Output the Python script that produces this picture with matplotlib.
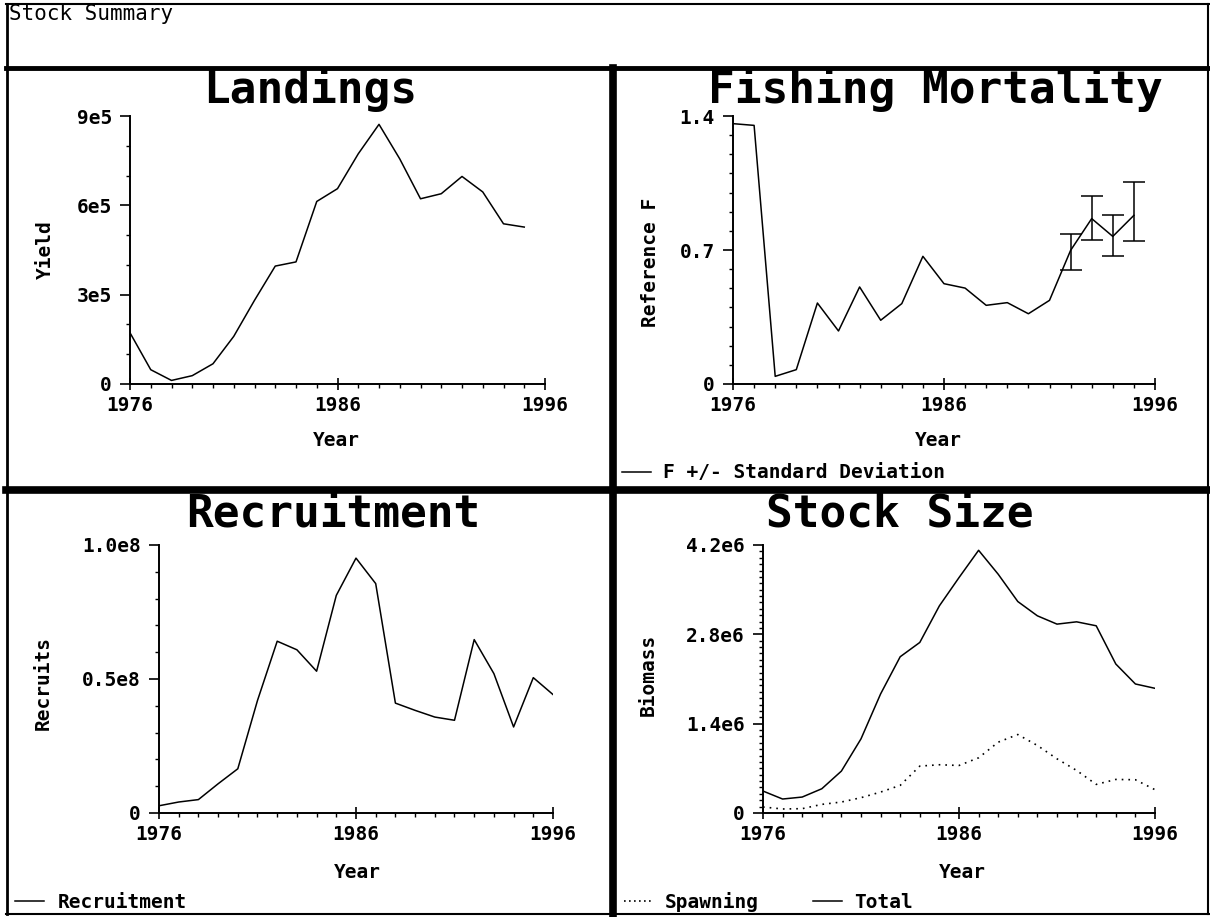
import matplotlib
matplotlib.use("Agg")
import matplotlib.pyplot as plt
from matplotlib.lines import Line2D
from matplotlib.ticker import MultipleLocator

# ---- data ----
land_years = list(range(1976, 1996))
landings = [172e3, 48e3, 12e3, 28e3, 68e3, 160e3, 281e3, 396e3, 410e3, 613e3,
            656e3, 773e3, 872e3, 756e3, 622e3, 639e3, 697e3, 645e3, 538e3, 527e3]

f_years = list(range(1976, 1996))
fmort = [1.360, 1.351, 0.040, 0.075, 0.423, 0.277, 0.507, 0.333, 0.420, 0.667,
         0.524, 0.501, 0.411, 0.425, 0.367, 0.437, 0.698, 0.864, 0.771, 0.881]
sd_years = [1992, 1993, 1994, 1995]
sd_upper = [0.785, 0.982, 0.884, 1.055]
sd_lower = [0.597, 0.754, 0.668, 0.745]

rec_years = list(range(1976, 1997))
recruits = [2.7e6, 4.1e6, 5.0e6, 10.9e6, 16.5e6, 42.0e6, 64.1e6, 60.9e6, 52.9e6, 81.2e6,
            95.1e6, 85.6e6, 41.0e6, 38.3e6, 35.8e6, 34.6e6, 64.7e6, 52.0e6, 32.1e6, 50.5e6,
            44.2e6]

stock_years = list(range(1976, 1997))
total_bio = [344e3, 219e3, 250e3, 380e3, 657e3, 1162e3, 1866e3, 2449e3, 2673e3, 3247e3,
             3689e3, 4117e3, 3742e3, 3314e3, 3090e3, 2960e3, 2996e3, 2934e3, 2335e3, 2022e3,
             1954e3]
spawn_bio = [94e3, 63e3, 68e3, 135e3, 172e3, 240e3, 328e3, 433e3, 735e3, 756e3,
             745e3, 865e3, 1110e3, 1230e3, 1058e3, 849e3, 667e3, 448e3, 526e3, 521e3,
             365e3]

W, H = 1210, 917
fig = plt.figure(figsize=(W / 100, H / 100), dpi=100)
fig.patch.set_facecolor("white")

MONO = "DejaVu Sans Mono"
TICKFONT = dict(family=MONO, weight="bold", size=14)
LABFONT = dict(family=MONO, weight="bold", size=14)
TITLEFONT = dict(family=MONO, weight="bold", size=32)


def fx(x):
    return x / W


def fy(y):
    return 1 - y / H


def make_axes(x0, x1, y0, y1):
    return fig.add_axes([fx(x0), fy(y1), fx(x1) - fx(x0), fy(y0) - fy(y1)])


def style(ax, top, major, labels, minor):
    ax.set_xlim(1976, 1996)
    ax.set_ylim(0, top)
    ax.set_xticks([1976, 1986, 1996])
    ax.set_xticklabels(["1976", "1986", "1996"], fontdict=TICKFONT)
    ax.xaxis.set_minor_locator(MultipleLocator(1))
    ax.set_yticks(major)
    ax.set_yticklabels(labels, fontdict=TICKFONT)
    ax.yaxis.set_minor_locator(MultipleLocator(minor))
    for s in ["top", "right"]:
        ax.spines[s].set_visible(False)
    for s in ["left", "bottom"]:
        ax.spines[s].set_linewidth(1.4)
    ax.tick_params(axis="x", which="major", direction="inout", length=8, width=1.2, pad=5)
    ax.tick_params(axis="x", which="minor", direction="out", length=3, width=1.0)
    ax.tick_params(axis="y", which="major", direction="out", length=7, width=1.2, pad=6)
    ax.tick_params(axis="y", which="minor", direction="out", length=3, width=1.0)
    ax.set_facecolor("none")


def labels(ax, ylab, ylab_xy, xlab_xy):
    ax.set_xlabel("Year", fontdict=LABFONT, va="center", ha="center")
    ax.xaxis.set_label_coords(fx(xlab_xy[0]), fy(xlab_xy[1]), transform=fig.transFigure)
    ax.set_ylabel(ylab, fontdict=LABFONT, va="center", ha="center")
    ax.yaxis.set_label_coords(fx(ylab_xy[0]), fy(ylab_xy[1]), transform=fig.transFigure)


# ---- Landings ----
ax1 = make_axes(130, 545, 116, 384)
ax1.plot(land_years, landings, color="black", lw=1.1)
style(ax1, 9e5, [0, 3e5, 6e5, 9e5], ["0", "3e5", "6e5", "9e5"], 1e5)
labels(ax1, "Yield", (45, 250), (336, 441))

# ---- Fishing Mortality ----
ax2 = make_axes(733, 1155, 116, 384)
ax2.plot(f_years, fmort, color="black", lw=1.1)
mid = [(u + l) / 2 for u, l in zip(sd_upper, sd_lower)]
half = [(u - l) / 2 for u, l in zip(sd_upper, sd_lower)]
ax2.errorbar(sd_years, mid, yerr=half, fmt="none", ecolor="black",
             elinewidth=1.1, capsize=8, capthick=1.1)
style(ax2, 1.4, [0, 0.7, 1.4], ["0", "0.7", "1.4"], 0.1)
labels(ax2, "Reference F", (651, 262), (938, 441))
ax2.legend([Line2D([], [], color="black", lw=1.1)], ["F +/- Standard Deviation"],
           loc="center left", bbox_to_anchor=(fx(622), fy(473)),
           bbox_transform=fig.transFigure, frameon=False, prop=LABFONT,
           handlelength=1.5, handletextpad=0.6, borderpad=0, borderaxespad=0)

# ---- Recruitment ----
ax3 = make_axes(159, 553, 545, 813)
ax3.plot(rec_years, recruits, color="black", lw=1.1)
style(ax3, 1.0e8, [0, 0.5e8, 1.0e8], ["0", "0.5e8", "1.0e8"], 0.1e8)
labels(ax3, "Recruits", (43, 683), (357, 873))
ax3.legend([Line2D([], [], color="black", lw=1.1)], ["Recruitment"],
           loc="center left", bbox_to_anchor=(fx(15), fy(902)),
           bbox_transform=fig.transFigure, frameon=False, prop=LABFONT,
           handlelength=1.5, handletextpad=0.7, borderpad=0, borderaxespad=0)

# ---- Stock Size ----
ax4 = make_axes(763, 1155, 545, 813)
ax4.plot(stock_years, spawn_bio, color="black", lw=1.2, ls=(0, (1, 3)))
ax4.plot(stock_years, total_bio, color="black", lw=1.1)
style(ax4, 4.2e6, [0, 1.4e6, 2.8e6, 4.2e6], ["0", "1.4e6", "2.8e6", "4.2e6"], 0.1e6)
labels(ax4, "Biomass", (648, 675), (962, 873))
ax4.legend([Line2D([], [], color="black", lw=1.2, ls=(0, (1, 2))),
            Line2D([], [], color="black", lw=1.1)], ["Spawning", "Total"],
           loc="center left", bbox_to_anchor=(fx(624), fy(902)),
           bbox_transform=fig.transFigure, frameon=False, prop=LABFONT, ncol=2,
           handlelength=1.5, handletextpad=0.6, columnspacing=2.8,
           borderpad=0, borderaxespad=0)

# ---- panel titles ----
fig.text(fx(310), fy(90), "Landings", ha="center", va="center", **TITLEFONT)
fig.text(fx(935), fy(90), "Fishing Mortality", ha="center", va="center", **TITLEFONT)
fig.text(fx(333), fy(514), "Recruitment", ha="center", va="center", **TITLEFONT)
fig.text(fx(900), fy(514), "Stock Size", ha="center", va="center", **TITLEFONT)
fig.text(fx(9), fy(14), "Stock Summary", ha="left", va="center",
         family=MONO, size=15)

# ---- frame and panel separators ----
def hline(y, x0, x1, lw):
    fig.add_artist(Line2D([fx(x0), fx(x1)], [fy(y), fy(y)], color="black", lw=lw,
                          transform=fig.transFigure))


def vline(x, y0, y1, lw):
    fig.add_artist(Line2D([fx(x), fx(x)], [fy(y0), fy(y1)], color="black", lw=lw,
                          transform=fig.transFigure))


hline(4, 6, 1209, 1.5)
hline(914, 6, 1209, 1.5)
vline(7, 4, 914, 2.0)
vline(1208, 4, 914, 1.5)
hline(68, 6, 1209, 3.5)
hline(490, 6, 1209, 5.5)
vline(613, 68, 914, 5.5)

fig.savefig("out.png", dpi=100, facecolor="white")
